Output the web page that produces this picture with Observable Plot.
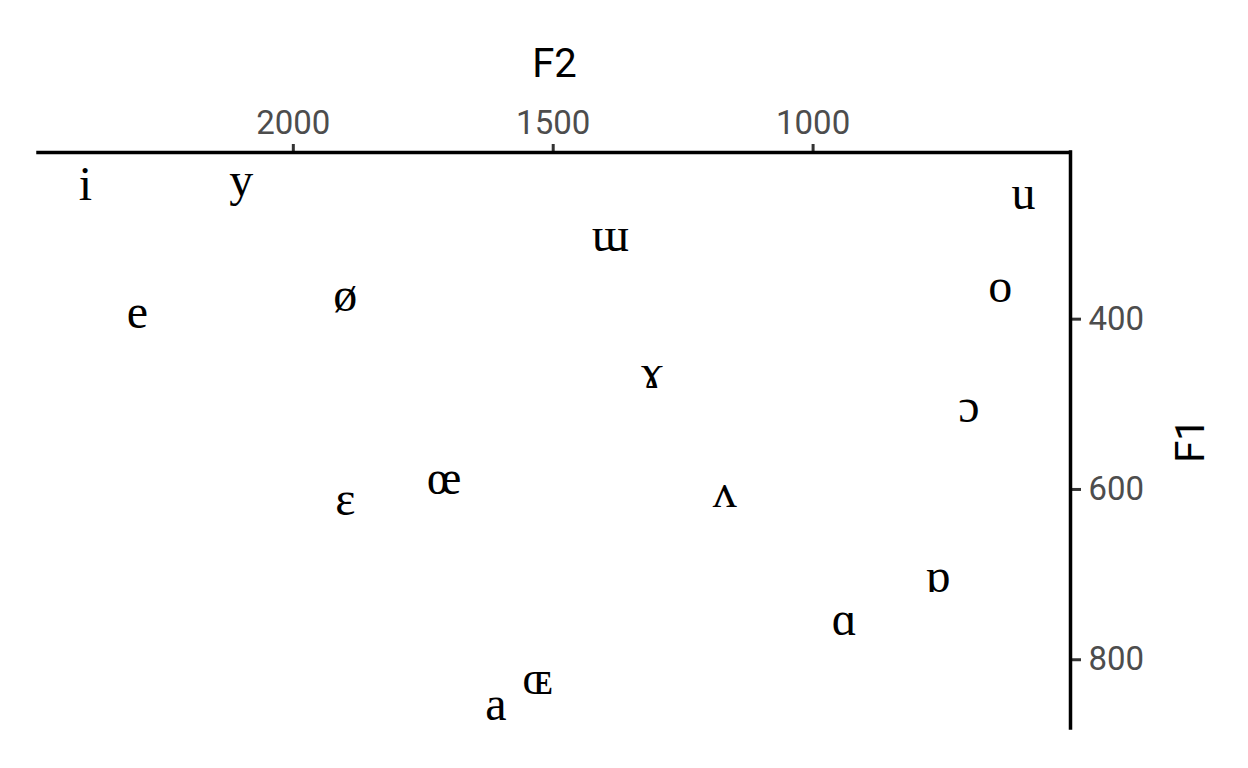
<!DOCTYPE html>
<html>
<head>
<meta charset="utf-8">
<script src="https://cdn.jsdelivr.net/npm/d3@7"></script>
<script src="https://cdn.jsdelivr.net/npm/@observablehq/plot@0.6"></script>
<style>
  html, body { margin: 0; padding: 0; background: #fff; }
</style>
</head>
<body>
<div id="chart"></div>
<script>
const vowels = ["i", "y", "e", "ø", "ɛ", "œ", "a", "ɶ", "ɑ", "ɒ", "ʌ", "ɔ", "ɤ", "o", "ɯ", "u"];
const f1 = [240, 235, 390, 370, 610, 585, 850, 820, 750, 700, 600, 500, 460, 360, 300, 250];
const f2 = [2400, 2100, 2300, 1900, 1900, 1710, 1610, 1530, 940, 760, 1170, 700, 1310, 640, 1390, 595];
const xTicks = [1000, 1500, 2000];
const yTicks = [400, 600, 800];

const data = vowels.map((v, i) => ({vowel: v, F1: f1[i], F2: f2[i]}));

// ggplot-style 5% expansion
const expand = (arr) => {
  const [lo, hi] = d3.extent(arr);
  const pad = (hi - lo) * 0.05;
  return [lo - pad, hi + pad];
};
const xExt = expand(f2);
const yExt = expand(f1);

const chart = Plot.plot({
  width: 1248,
  height: 768,
  marginTop: 152,
  marginRight: 178,
  marginBottom: 40,
  marginLeft: 38,
  style: {background: "#fff", fontFamily: "Roboto, sans-serif"},
  x: {domain: [xExt[1], xExt[0]], ticks: xTicks},
  y: {domain: [yExt[1], yExt[0]], ticks: yTicks},
  marks: [
    Plot.axisX({anchor: "top", ticks: xTicks, tickSize: 9, text: null, label: null, stroke: "#333333", strokeWidth: 3}),
    Plot.axisX({anchor: "top", ticks: xTicks, tickSize: 0, tickPadding: 19, tickFormat: "d", label: null, fill: "#4D4D4D", fontSize: 33, fontFamily: "Roboto"}),
    Plot.axisY({anchor: "right", ticks: yTicks, tickSize: 10, text: null, label: null, stroke: "#333333", strokeWidth: 3}),
    Plot.axisY({anchor: "right", ticks: yTicks, tickSize: 0, tickPadding: 18, tickFormat: "d", label: null, fill: "#4D4D4D", fontSize: 33, fontFamily: "Roboto"}),
    Plot.ruleY([yExt[0]], {stroke: "#000", strokeWidth: 3.5, strokeLinecap: "square"}),
    Plot.ruleX([xExt[0]], {stroke: "#000", strokeWidth: 3.5, strokeLinecap: "square"}),
    Plot.text(["F2"], {frameAnchor: "top", textAnchor: "middle", dy: -88, fontSize: 40, fontFamily: "Roboto", fill: "#000", lineAnchor: "middle"}),
    Plot.text(["F1"], {frameAnchor: "right", textAnchor: "middle", dx: 121, rotate: -90, fontSize: 40, fontFamily: "Roboto", fill: "#000", lineAnchor: "middle"}),
    Plot.text(data, {x: "F2", y: "F1", text: "vowel", fontFamily: "Liberation Serif", fontSize: 48, fill: "#000", lineAnchor: "middle", dy: 2})
  ]
});
document.getElementById("chart").appendChild(chart);
</script>
</body>
</html>
